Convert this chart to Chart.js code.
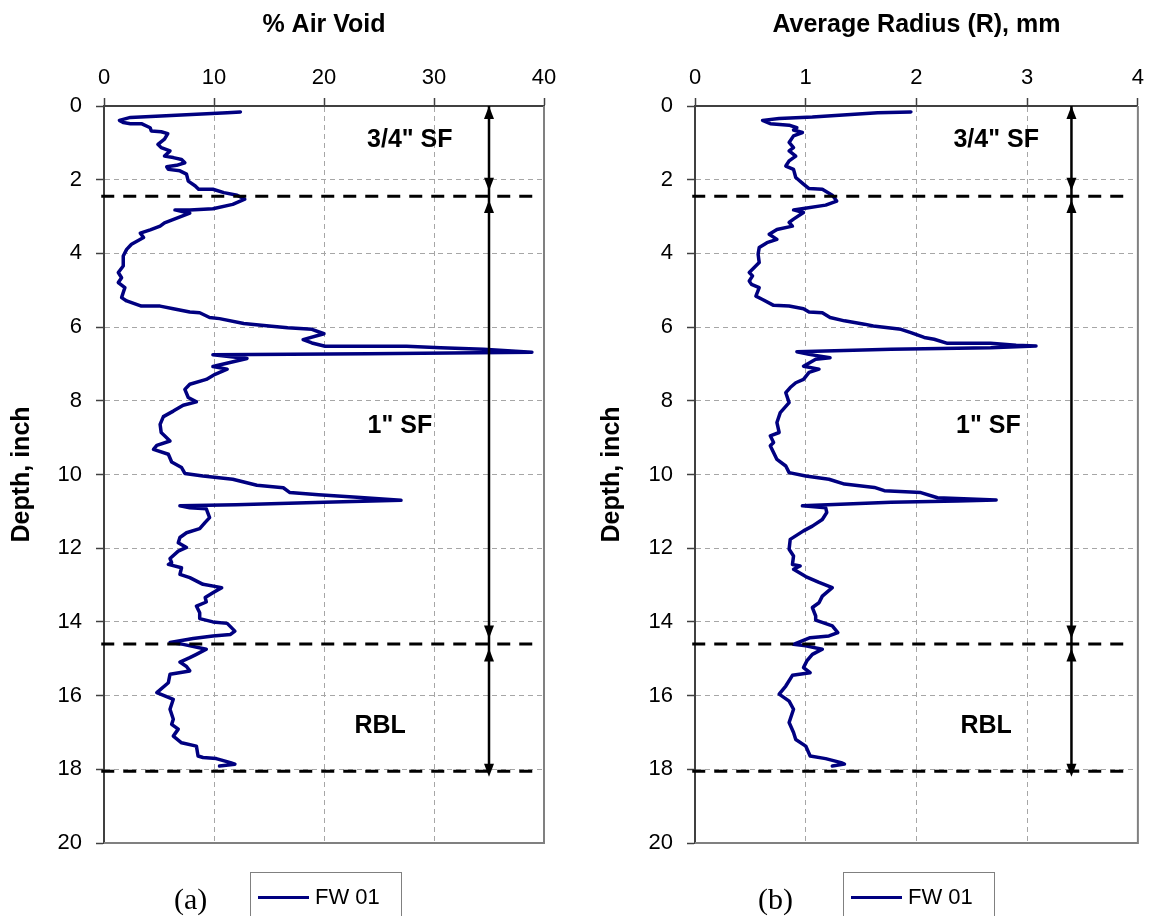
<!DOCTYPE html>
<html>
<head>
<meta charset="utf-8">
<script src="https://cdn.jsdelivr.net/npm/chart.js@4.4.0/dist/chart.umd.min.js"></script>
<style>
    html, body { margin: 0; padding: 0; background: #fff; }
    body { width: 1151px; height: 916px; position: relative; overflow: hidden; font-family: "Liberation Sans", Arial, sans-serif; }
    .panel { position: absolute; top: 0; height: 916px; }
    .tag { position: absolute; font-family: "Liberation Serif", "Times New Roman", serif; font-size: 30px; line-height: 30px; color: #000; }
    .legend { position: absolute; top: 872px; height: 60px; width: 150px; border: 1px solid #808080; background: #fff; }
    .legend .swatch { position: absolute; left: 7px; top: 23px; width: 51px; height: 3px; background: #000080; }
    .legend .name { position: absolute; left: 64px; top: 11px; font-size: 22px; line-height: 26px; color: #000; }
</style>
</head>
<body>
<div class="panel" style="left:0;width:575px"><canvas id="chartA"></canvas></div>
<div class="panel" style="left:575px;width:576px"><canvas id="chartB"></canvas></div>

<div class="tag" style="left:174px;top:884px">(a)</div>
<div class="legend" style="left:250px"><span class="swatch"></span><span class="name">FW 01</span></div>
<div class="tag" style="left:758px;top:884px">(b)</div>
<div class="legend" style="left:843px"><span class="swatch"></span><span class="name">FW 01</span></div>

<script>
(function() {
    'use strict';

    // --- data: depth (inch) vs. value ---
    var depthA = [0.16, 0.18, 0.31, 0.39, 0.45, 0.48, 0.48, 0.59, 0.68, 0.70, 0.75, 0.90, 1.04, 1.13, 1.22, 1.36, 1.40, 1.45, 1.54, 1.61,
        1.65, 1.72, 1.76, 1.85, 2.04, 2.17, 2.26, 2.26, 2.35, 2.42, 2.53, 2.67, 2.79, 2.82, 2.82, 2.91, 3.17, 3.26, 3.36, 3.45,
        3.57, 3.75, 3.89, 4.07, 4.34, 4.52, 4.66, 4.79, 4.93, 5.06, 5.20, 5.29, 5.43, 5.43, 5.50, 5.59, 5.61, 5.74, 5.77, 5.90,
        5.97, 6.02, 6.06, 6.18, 6.34, 6.43, 6.52, 6.52, 6.56, 6.60, 6.68, 6.72, 6.75, 6.85, 7.07, 7.14, 7.28, 7.42, 7.55, 7.69,
        7.91, 8.03, 8.12, 8.28, 8.43, 8.64, 8.86, 9.09, 9.21, 9.32, 9.45, 9.66, 9.81, 9.97, 10.04, 10.13, 10.29, 10.36, 10.49, 10.55,
        10.62, 10.70, 10.75, 10.82, 10.85, 10.90, 10.93, 11.17, 11.30, 11.47, 11.58, 11.71, 11.85, 11.98, 12.08, 12.28, 12.39, 12.44, 12.53, 12.71,
        12.80, 12.98, 13.07, 13.21, 13.34, 13.46, 13.57, 13.75, 13.91, 14.00, 14.04, 14.25, 14.34, 14.38, 14.45, 14.56, 14.61, 14.74, 14.88, 14.97,
        15.09, 15.21, 15.33, 15.42, 15.65, 15.92, 16.10, 16.37, 16.64, 16.78, 16.91, 17.10, 17.28, 17.37, 17.64, 17.68, 17.71, 17.82, 17.86, 17.91];
    var airVoid = [12.4, 11.2, 2.4, 1.4, 1.75, 2.4, 3.4, 4.2, 4.3, 5.2, 5.8, 5.5, 4.9, 5.2, 6.0, 5.5, 6.3, 7.05, 7.35, 6.6,
        5.7, 5.85, 6.9, 7.5, 7.66, 8.3, 8.6, 9.9, 10.9, 12.1, 12.8, 11.7, 9.9, 7.8, 6.45, 7.8, 5.5, 5.1, 4.2, 3.3,
        3.6, 2.5, 2.06, 1.75, 1.75, 1.3, 1.6, 1.3, 1.9, 1.75, 1.6, 2.06, 3.4, 5.1, 6.3, 7.8, 8.7, 9.6, 10.5, 12.7,
        15.0, 16.7, 18.9, 20.0, 18.1, 18.9, 20.1, 27.5, 30.6, 34.5, 38.9, 24.0, 9.9, 13.0, 9.9, 11.2, 10.1, 9.3, 7.8, 7.35,
        7.66, 8.4, 7.2, 6.3, 5.4, 5.1, 5.2, 6.0, 4.8, 4.5, 5.85, 6.15, 7.05, 7.35, 9.0, 11.7, 13.9, 16.3, 16.9, 19.5,
        23.0, 27.0, 20.0, 12.0, 6.9, 7.8, 9.3, 9.6, 9.2, 8.7, 7.5, 6.9, 6.75, 7.5, 6.75, 6.0, 6.15, 5.85, 7.05, 6.9,
        7.8, 9.0, 10.7, 9.9, 9.2, 9.3, 8.4, 8.7, 8.7, 9.9, 11.2, 11.9, 11.5, 9.9, 8.1, 6.0, 7.2, 9.3, 8.4, 7.8,
        6.9, 7.5, 7.8, 6.0, 5.85, 4.8, 6.3, 6.0, 6.3, 6.15, 6.75, 6.3, 7.05, 8.4, 8.55, 9.0, 10.2, 11.5, 11.9, 10.5];

    var depthB = [0.16, 0.18, 0.30, 0.34, 0.39, 0.48, 0.52, 0.59, 0.65, 0.72, 0.81, 0.99, 1.13, 1.22, 1.36, 1.49, 1.63, 1.72, 1.94, 2.12,
        2.24, 2.26, 2.42, 2.58, 2.69, 2.78, 2.82, 2.89, 3.07, 3.16, 3.26, 3.35, 3.48, 3.62, 3.71, 3.84, 4.02, 4.25, 4.52, 4.61,
        4.75, 4.84, 4.93, 5.16, 5.25, 5.41, 5.43, 5.50, 5.59, 5.61, 5.74, 5.83, 5.92, 5.97, 6.06, 6.15, 6.28, 6.33, 6.44, 6.44,
        6.49, 6.51, 6.56, 6.60, 6.67, 6.74, 6.83, 6.87, 7.06, 7.14, 7.23, 7.42, 7.51, 7.64, 7.78, 8.05, 8.32, 8.59, 8.86, 8.95,
        9.13, 9.22, 9.59, 9.77, 9.95, 10.04, 10.13, 10.26, 10.35, 10.44, 10.49, 10.63, 10.69, 10.72, 10.75, 10.85, 10.90, 11.03, 11.22, 11.40,
        11.53, 11.76, 12.03, 12.21, 12.44, 12.48, 12.57, 12.77, 12.93, 13.07, 13.30, 13.48, 13.61, 13.84, 13.95, 14.11, 14.29, 14.38, 14.43, 14.61,
        14.65, 14.74, 14.88, 15.06, 15.24, 15.38, 15.45, 15.74, 15.96, 16.15, 16.37, 16.73, 17.00, 17.19, 17.37, 17.64, 17.71, 17.82, 17.86, 17.91];
    var radius = [1.95, 1.65, 1.06, 0.76, 0.61, 0.68, 0.85, 0.92, 0.89, 0.97, 0.89, 0.85, 0.89, 0.85, 0.91, 0.85, 0.82, 0.89, 0.91, 0.98,
        1.03, 1.15, 1.24, 1.28, 1.18, 0.98, 0.89, 0.98, 0.89, 0.85, 0.88, 0.74, 0.67, 0.74, 0.65, 0.58, 0.57, 0.58, 0.49, 0.52,
        0.49, 0.51, 0.58, 0.55, 0.61, 0.71, 0.85, 0.98, 1.03, 1.15, 1.22, 1.35, 1.53, 1.61, 1.86, 1.95, 2.07, 2.16, 2.28, 2.67,
        2.90, 3.08, 2.67, 1.77, 0.92, 1.03, 1.22, 1.09, 0.98, 1.12, 1.03, 0.98, 0.91, 0.86, 0.82, 0.85, 0.77, 0.74, 0.76, 0.68,
        0.71, 0.68, 0.74, 0.82, 0.85, 1.00, 1.21, 1.35, 1.62, 1.71, 2.04, 2.19, 2.72, 2.37, 1.77, 0.97, 1.18, 1.19, 1.15, 1.06,
        0.98, 0.86, 0.85, 0.89, 0.88, 0.95, 0.89, 1.00, 1.12, 1.24, 1.15, 1.12, 1.06, 1.09, 1.09, 1.24, 1.29, 1.21, 1.04, 0.89,
        1.00, 1.15, 1.06, 1.01, 0.98, 1.04, 0.88, 0.82, 0.76, 0.85, 0.89, 0.85, 0.89, 0.91, 1.00, 1.04, 1.18, 1.32, 1.35, 1.24];

    var depthTicks = [0, 2, 4, 6, 8, 10, 12, 14, 16, 18, 20];
    var airTicks = [0, 10, 20, 30, 40];
    var radiusTicks = [0, 1, 2, 3, 4];

    // layer boundaries, arrow stops and layer names
    var layerDepths = [2.45, 14.6, 18.05];
    var arrowTips = [[0, -1], [2.3, 1], [2.55, -1], [14.45, 1], [14.72, -1], [18.2, 1]];
    var layerNames = ['3/4" SF', '1" SF', 'RBL'];
    var layerNameDepths = [0.92, 8.7, 16.83];

    var seriesName = 'FW 01';
    var fontFamily = '"Liberation Sans", Arial, sans-serif';

    var panels = [
        {
            id: 'chartA', width: 575, box: { left: 104, right: 544, top: 106, bottom: 843 },
            depth: depthA, values: airVoid, ticks: airTicks, title: '% Air Void',
            yTitlePad: 7, dashFrom: -0.25, dashTo: 39.7, arrowX: 35, nameX: [27.8, 26.9, 25.1]
        },
        {
            id: 'chartB', width: 576, box: { left: 120, right: 568, top: 106, bottom: 843 },
            depth: depthB, values: radius, ticks: radiusTicks, title: 'Average Radius (R), mm',
            yTitlePad: 22, dashFrom: -0.025, dashTo: 3.92, arrowX: 3.4, nameX: [2.72, 2.65, 2.63]
        }
    ];

    /**
     * Plugin: plot frame, layer arrows and layer names.
     */
    var overlayPlugin = {
        id: 'layerOverlay',
        afterDatasetsDraw: function(chart) {
            var p = chart.options.plugins.layerOverlay;
            var ctx = chart.ctx;
            var area = chart.chartArea;
            var xs = chart.scales.x;
            var ys = chart.scales.y;

            ctx.save();
            // light frame on right and bottom
            ctx.strokeStyle = '#808080';
            ctx.lineWidth = 2;
            ctx.beginPath();
            ctx.moveTo(area.right, area.top);
            ctx.lineTo(area.right, area.bottom);
            ctx.lineTo(area.left, area.bottom);
            ctx.stroke();

            // arrow heads
            var ax = xs.getPixelForValue(p.arrowX);
            ctx.fillStyle = '#000';
            arrowTips.forEach(function(t) {
                var ty = ys.getPixelForValue(t[0]);
                var dir = t[1];
                ctx.beginPath();
                ctx.moveTo(ax, ty);
                ctx.lineTo(ax - 5, ty - dir * 13);
                ctx.lineTo(ax + 5, ty - dir * 13);
                ctx.closePath();
                ctx.fill();
            });

            // layer names
            ctx.font = 'bold 25px ' + fontFamily;
            ctx.textAlign = 'center';
            ctx.textBaseline = 'middle';
            layerNames.forEach(function(name, i) {
                ctx.fillText(name, xs.getPixelForValue(p.nameX[i]), ys.getPixelForValue(layerNameDepths[i]));
            });
            ctx.restore();
        }
    };

    function buildPanel(cfg) {
        var canvas = document.getElementById(cfg.id);
        canvas.width = cfg.width;
        canvas.height = 916;
        canvas.style.width = cfg.width + 'px';
        canvas.style.height = '916px';

        var points = cfg.depth.map(function(d, i) { return { x: cfg.values[i], y: d }; });
        var xMax = cfg.ticks[cfg.ticks.length - 1];

        var datasets = layerDepths.map(function(d) {
            return {
                label: 'layer',
                data: [{ x: cfg.dashFrom, y: d }, { x: cfg.dashTo, y: d }],
                borderColor: '#000',
                borderWidth: 3,
                borderDash: [13, 9],
                pointRadius: 0,
                clip: false
            };
        });
        datasets.push({
            label: 'arrow',
            data: [{ x: cfg.arrowX, y: 0 }, { x: cfg.arrowX, y: arrowTips[arrowTips.length - 1][0] - 0.2 }],
            borderColor: '#000',
            borderWidth: 2.5,
            pointRadius: 0
        });
        datasets.push({
            label: seriesName,
            data: points,
            borderColor: '#000080',
            borderWidth: 3.5,
            pointRadius: 0,
            tension: 0,
            borderJoinStyle: 'round',
            borderCapStyle: 'round'
        });

        new Chart(canvas.getContext('2d'), {
            type: 'line',
            data: { datasets: datasets },
            plugins: [overlayPlugin],
            options: {
                responsive: false,
                animation: false,
                events: [],
                layout: { padding: { left: 0, top: 0, right: cfg.width - cfg.box.right, bottom: 916 - cfg.box.bottom } },
                plugins: {
                    legend: { display: false },
                    tooltip: { enabled: false },
                    layerOverlay: { arrowX: cfg.arrowX, nameX: cfg.nameX }
                },
                scales: {
                    x: {
                        type: 'linear',
                        position: 'top',
                        min: 0,
                        max: xMax,
                        afterBuildTicks: function(scale) {
                            scale.ticks = cfg.ticks.map(function(v) { return { value: v }; });
                        },
                        afterFit: function(scale) { scale.height = cfg.box.top; },
                        ticks: { color: '#000', font: { family: fontFamily, size: 22 }, padding: 7, autoSkip: false, maxRotation: 0 },
                        grid: { color: '#a6a6a6', lineWidth: 1, tickColor: '#404040', tickLength: 8, tickWidth: 1.5 },
                        border: { color: '#404040', width: 2, dash: [5, 4] },
                        title: { display: true, text: cfg.title, color: '#000', font: { family: fontFamily, size: 25, weight: 'bold' }, padding: { top: 10, bottom: 0 } }
                    },
                    y: {
                        type: 'linear',
                        reverse: true,
                        min: 0,
                        max: 20,
                        afterBuildTicks: function(scale) {
                            scale.ticks = depthTicks.map(function(v) { return { value: v }; });
                        },
                        afterFit: function(scale) { scale.width = cfg.box.left; },
                        ticks: { color: '#000', font: { family: fontFamily, size: 22 }, padding: 14, autoSkip: false },
                        grid: { color: '#a6a6a6', lineWidth: 1, tickColor: '#404040', tickLength: 8, tickWidth: 1.5 },
                        border: { color: '#404040', width: 2, dash: [5, 4] },
                        title: { display: true, text: 'Depth, inch', color: '#000', font: { family: fontFamily, size: 25, weight: 'bold' }, padding: { top: cfg.yTitlePad, bottom: 0 } }
                    }
                }
            }
        });
    }

    function init() {
        if (typeof Chart === 'undefined') {
            console.error('Chart.js library not loaded.');
            return;
        }
        panels.forEach(buildPanel);
    }

    if (document.readyState === 'loading') {
        document.addEventListener('DOMContentLoaded', init);
    } else {
        init();
    }
})();
</script>
</body>
</html>
